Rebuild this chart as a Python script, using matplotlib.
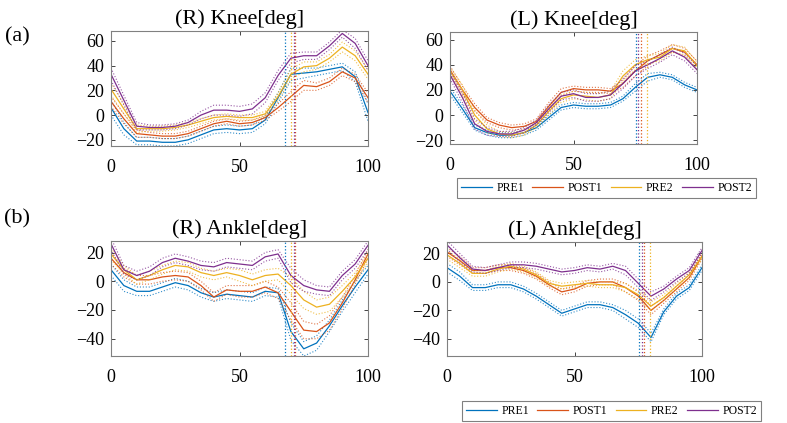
#!/usr/bin/env python3
"""Joint angle curves over the gait cycle (mean +/- SD) for four sessions."""

import matplotlib
matplotlib.use("Agg")
import matplotlib.pyplot as plt
import numpy as np

plt.rcParams["font.family"] = ["Liberation Serif", "DejaVu Serif"]

# gait cycle [%]
GAIT = [0, 5, 10, 15, 20, 25, 30, 35, 40, 45, 50, 55, 60, 65, 70, 75, 80, 85, 90, 95, 100]
SESSIONS = ["PRE1", "POST1", "PRE2", "POST2"]
COLORS = ["#0072BD", "#D95319", "#EDB120", "#7E2F8E"]

# (R) Knee mean / SD
R_KNEE_PRE1 = [6, -11, -21, -21, -22, -22, -20, -16, -12, -11, -12, -11, -4, 14, 33, 34, 35, 37, 39, 31, 2]
R_KNEE_POST1 = [11, -3, -15, -16, -17, -17, -15, -11, -7, -5, -7, -6, -2, 6, 15, 24, 23, 27, 35, 30, 14]
R_KNEE_PRE2 = [21, 5, -11, -11, -11, -10, -8, -5, -2, -1, -2, -2, 1, 15, 33, 39, 40, 46, 55, 48, 33]
R_KNEE_POST2 = [33, 12, -9, -10, -10, -9, -6, 0, 4, 4, 3, 5, 14, 32, 46, 48, 48, 56, 66, 58, 40]
R_KNEE_SD_PRE1 = [6, 5, 3, 3, 3, 3, 3, 3, 3, 3, 3, 3, 3, 4, 5, 4, 3, 3, 3, 4, 7]
R_KNEE_SD_POST1 = [4, 4, 3, 2, 2, 2, 2, 2, 2, 2, 2, 2, 2, 3, 4, 4, 3, 3, 3, 3, 4]
R_KNEE_SD_PRE2 = [5, 4, 3, 2, 2, 2, 2, 2, 2, 2, 2, 2, 2, 3, 4, 4, 3, 3, 4, 4, 4]
R_KNEE_SD_POST2 = [5, 4, 3, 2, 2, 2, 2, 3, 4, 4, 4, 4, 4, 4, 4, 3, 3, 3, 3, 4, 4]
R_KNEE_TOEOFF = [67.7, 71.6, 70.2, 71.2]

# (L) Knee
L_KNEE_PRE1 = [19, 5, -10, -14, -16, -16, -14, -10, -2, 6, 8, 7, 7, 8, 13, 22, 30, 32, 30, 24, 20]
L_KNEE_POST1 = [36, 20, 6, -4, -8, -10, -9, -5, 7, 18, 21, 20, 20, 19, 25, 35, 43, 48, 53, 50, 40]
L_KNEE_PRE2 = [35, 20, 0, -11, -15, -16, -14, -8, 3, 13, 16, 15, 14, 16, 31, 40, 44, 46, 53, 51, 39]
L_KNEE_POST2 = [32, 14, -7, -13, -15, -15, -12, -6, 5, 15, 17, 14, 14, 16, 25, 35, 40, 45, 51, 46, 36]
L_KNEE_SD_PRE1 = [3, 3, 2, 2, 2, 2, 2, 2, 2, 2, 2, 2, 2, 2, 2, 3, 3, 2, 2, 2, 2]
L_KNEE_SD_POST1 = [3, 3, 3, 2, 2, 2, 2, 2, 3, 3, 2, 2, 2, 2, 3, 4, 4, 3, 3, 3, 3]
L_KNEE_SD_PRE2 = [3, 4, 4, 3, 2, 2, 2, 2, 3, 3, 3, 3, 3, 3, 4, 4, 3, 3, 3, 3, 3]
L_KNEE_SD_POST2 = [3, 4, 4, 3, 2, 2, 2, 2, 3, 3, 3, 3, 3, 3, 4, 4, 3, 3, 3, 3, 3]
L_KNEE_TOEOFF = [75.2, 77.3, 79.6, 76.2]

# (R) Ankle
R_ANKLE_PRE1 = [8, -3, -7, -7, -4, -1, -3, -8, -11, -9, -10, -11, -7, -8, -35, -47, -43, -31, -17, -4, 8]
R_ANKLE_POST1 = [16, 6, 1, 1, 3, 4, 3, -3, -11, -6, -7, -7, -4, -8, -21, -34, -35, -29, -15, 1, 19]
R_ANKLE_PRE2 = [19, 8, 1, 4, 8, 11, 10, 6, 4, 6, 4, 1, 4, 5, -3, -13, -18, -16, -7, 3, 16]
R_ANKLE_POST2 = [26, 8, 4, 7, 13, 16, 14, 11, 10, 13, 12, 11, 17, 19, 4, -3, -6, -7, 4, 12, 25]
R_ANKLE_SD_PRE1 = [4, 4, 3, 3, 3, 3, 3, 3, 3, 3, 3, 3, 3, 3, 6, 5, 5, 4, 4, 4, 3]
R_ANKLE_SD_POST1 = [4, 3, 3, 3, 3, 3, 3, 3, 3, 3, 4, 4, 4, 4, 6, 6, 5, 5, 4, 3, 3]
R_ANKLE_SD_PRE2 = [4, 3, 3, 3, 3, 3, 3, 3, 3, 3, 4, 4, 4, 4, 6, 6, 5, 5, 4, 3, 3]
R_ANKLE_SD_POST2 = [4, 3, 3, 3, 3, 3, 3, 3, 3, 3, 3, 3, 3, 3, 5, 4, 3, 3, 3, 3, 3]
R_ANKLE_TOEOFF = [67.7, 71.6, 70.2, 71.2]

# (L) Ankle
L_ANKLE_PRE1 = [10, 4, -4, -4, -2, -2, -5, -10, -16, -22, -19, -16, -16, -18, -23, -29, -39, -21, -10, -4, 10]
L_ANKLE_POST1 = [21, 15, 8, 8, 10, 10, 8, 4, -2, -7, -5, -1, 0, 0, -4, -10, -20, -13, -5, 3, 18]
L_ANKLE_PRE2 = [19, 13, 6, 6, 9, 11, 9, 5, -1, -3, -2, -1, -2, -2, -4, -9, -17, -11, -3, 5, 18]
L_ANKLE_POST2 = [26, 17, 9, 8, 10, 12, 12, 11, 9, 7, 8, 10, 9, 11, 8, -1, -10, -5, 2, 8, 22]
L_ANKLE_SD_PRE1 = [3, 3, 2, 2, 2, 2, 2, 2, 2, 2, 2, 2, 2, 2, 3, 3, 3, 2, 2, 2, 2]
L_ANKLE_SD_POST1 = [3, 3, 2, 2, 2, 2, 2, 2, 2, 2, 2, 2, 2, 2, 3, 3, 3, 2, 2, 2, 2]
L_ANKLE_SD_PRE2 = [3, 3, 2, 2, 2, 2, 2, 2, 2, 2, 2, 2, 2, 2, 3, 3, 3, 2, 2, 2, 2]
L_ANKLE_SD_POST2 = [3, 3, 2, 2, 2, 2, 2, 2, 2, 2, 2, 2, 2, 2, 3, 3, 3, 2, 2, 2, 2]
L_ANKLE_TOEOFF = [75.4, 77.4, 79.6, 76.6]


def draw_panel(ax, title, means, sds, toeoff, ylim, yticks):
    x = np.array(GAIT)
    for m, s, color in zip(means, sds, COLORS):
        m = np.array(m, dtype=float)
        s = np.array(s, dtype=float)
        ax.plot(x, m, color=color, lw=0.9)
        ax.plot(x, m + s, color=color, lw=0.8, ls=":", alpha=0.8)
        ax.plot(x, m - s, color=color, lw=0.8, ls=":", alpha=0.8)
    for t, color in zip(toeoff, COLORS):
        ax.axvline(t, color=color, lw=0.9, ls=":")
    ax.set_xlim(0, 100)
    ax.set_ylim(*ylim)
    ax.set_xticks([0, 50, 100])
    ax.set_yticks(yticks)
    ax.set_title(title, fontsize=16, pad=5)
    ax.tick_params(direction="in", length=3, width=0.6, color="#262626",
                   labelsize=13, top=True, right=True)
    ax.tick_params(axis="x", pad=9)
    ax.tick_params(axis="y", pad=5)
    for sp in ax.spines.values():
        sp.set_color("#808080")
        sp.set_linewidth(0.8)


def add_legend(fig, ax, cx, cy):
    handles = [plt.Line2D([], [], color=c, lw=0.9) for c in COLORS]
    leg = ax.legend(handles, SESSIONS, loc="center", bbox_to_anchor=(cx, cy),
                    bbox_transform=fig.transFigure, ncol=4, fontsize=8.5,
                    fancybox=False, handlelength=2.6, handletextpad=0.4,
                    columnspacing=0.7, borderpad=0.3, framealpha=1)
    leg.get_frame().set_edgecolor("#808080")
    leg.get_frame().set_linewidth(0.8)


fig = plt.figure(figsize=(7.87, 4.23), dpi=100)

ax1 = fig.add_axes([111 / 787, 1 - 146 / 423, 257 / 787, 115 / 423])
ax2 = fig.add_axes([450 / 787, 1 - 144 / 423, 247 / 787, 112 / 423])
ax3 = fig.add_axes([111 / 787, 1 - 356 / 423, 257 / 787, 115 / 423])
ax4 = fig.add_axes([447 / 787, 1 - 356 / 423, 255 / 787, 114 / 423])

draw_panel(ax1, "(R) Knee[deg]",
           [R_KNEE_PRE1, R_KNEE_POST1, R_KNEE_PRE2, R_KNEE_POST2],
           [R_KNEE_SD_PRE1, R_KNEE_SD_POST1, R_KNEE_SD_PRE2, R_KNEE_SD_POST2],
           R_KNEE_TOEOFF, (-25, 68), [-20, 0, 20, 40, 60])
draw_panel(ax2, "(L) Knee[deg]",
           [L_KNEE_PRE1, L_KNEE_POST1, L_KNEE_PRE2, L_KNEE_POST2],
           [L_KNEE_SD_PRE1, L_KNEE_SD_POST1, L_KNEE_SD_PRE2, L_KNEE_SD_POST2],
           L_KNEE_TOEOFF, (-23, 66), [-20, 0, 20, 40, 60])
draw_panel(ax3, "(R) Ankle[deg]",
           [R_ANKLE_PRE1, R_ANKLE_POST1, R_ANKLE_PRE2, R_ANKLE_POST2],
           [R_ANKLE_SD_PRE1, R_ANKLE_SD_POST1, R_ANKLE_SD_PRE2, R_ANKLE_SD_POST2],
           R_ANKLE_TOEOFF, (-52, 28), [-40, -20, 0, 20])
draw_panel(ax4, "(L) Ankle[deg]",
           [L_ANKLE_PRE1, L_ANKLE_POST1, L_ANKLE_PRE2, L_ANKLE_POST2],
           [L_ANKLE_SD_PRE1, L_ANKLE_SD_POST1, L_ANKLE_SD_PRE2, L_ANKLE_SD_POST2],
           L_ANKLE_TOEOFF, (-52, 28), [-40, -20, 0, 20])

add_legend(fig, ax2, 606.5 / 787, 1 - 188 / 423)
add_legend(fig, ax4, 611.5 / 787, 1 - 411 / 423)

fig.text(17 / 787, 1 - 37 / 423, "(a)", fontsize=16, ha="center", va="center")
fig.text(17 / 787, 1 - 219 / 423, "(b)", fontsize=16, ha="center", va="center")

fig.savefig("out.png", dpi=100)
